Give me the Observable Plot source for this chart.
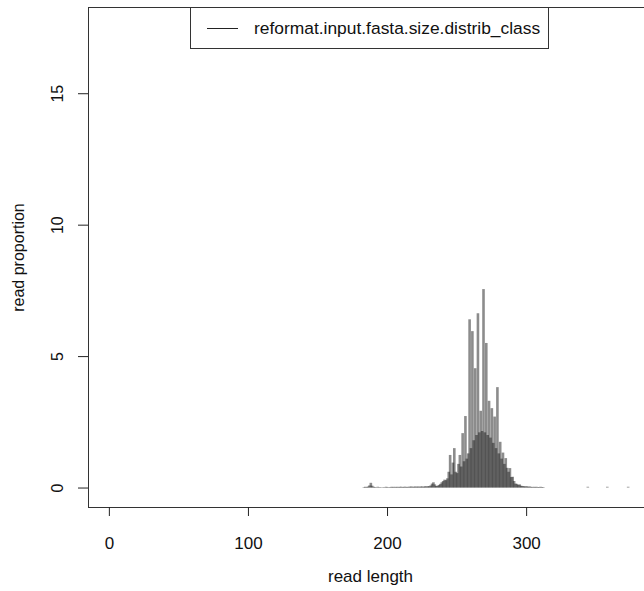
<!DOCTYPE html>
<html><head><meta charset="utf-8">
<script src="https://cdn.jsdelivr.net/npm/d3@7"></script>
<script src="https://cdn.jsdelivr.net/npm/@observablehq/plot@0.6"></script>
<style>
body{margin:0;background:#fff;}
#wrap{position:relative;width:644px;height:591px;overflow:hidden;background:#fff;font-family:"Liberation Sans",Arial,sans-serif;}
#chart svg{max-width:none !important;display:block;}
#legend{position:absolute;left:190px;top:7px;width:359px;height:42px;box-sizing:border-box;border:1px solid #333;background:#fff;}
#legend .sw{position:absolute;left:16px;top:20px;width:31px;height:0;border-top:1px solid #222;}
#legend .tx{position:absolute;left:63px;top:10px;font-size:17.4px;line-height:20px;color:#111;white-space:nowrap;}
</style></head>
<body>
<div id="wrap"><div id="chart"></div>
<div id="legend"><div class="sw"></div><div class="tx">reformat.input.fasta.size.distrib_class</div></div>
</div>
<script>
const readLength = [183,184,185,186,187,188,189,190,191,192,193,194,195,196,197,198,199,200,201,202,203,204,205,206,207,208,209,210,211,212,213,214,215,216,217,218,219,220,221,222,223,224,225,226,227,228,229,230,231,232,233,234,235,236,237,238,239,240,241,242,243,244,245,246,247,248,249,250,251,252,253,254,255,256,257,258,259,260,261,262,263,264,265,266,267,268,269,270,271,272,273,274,275,276,277,278,279,280,281,282,283,284,285,286,287,288,289,290,291,292,293,294,295,296,297,298,299,300,301,302,303,304,305,306,307,308,309,310,311,312,344,358,373];
const proportion = [0.02,0.03,0.02,0.04,0.08,0.18,0.07,0.03,0.02,0.01,0.03,0.01,0.02,0,0.02,0.01,0.03,0.02,0.01,0.02,0.03,0.02,0.03,0.02,0.03,0.02,0.03,0.03,0.02,0.03,0.03,0.02,0.03,0.03,0.04,0.03,0.03,0.04,0.03,0.04,0.03,0.04,0.04,0.03,0.05,0.04,0.05,0.05,0.08,0.15,0.2,0.12,0.06,0.07,0.1,0.14,0.2,0.25,0.3,0.28,0.35,0.6,1.24,0.5,0.95,1.5,0.6,0.55,0.9,1.24,0.8,2.07,1.0,2.72,1.1,1.3,6.4,1.5,5.95,1.8,4.54,2.0,6.63,2.1,2.92,2.15,7.55,2.1,5.5,2.0,3.3,1.9,3.02,1.7,2.7,1.5,3.82,1.3,1.74,1.1,1.33,0.9,1.12,0.75,0.6,0.74,0.4,0.41,0.25,0.15,0.14,0.1,0.12,0.07,0.06,0.05,0.04,0.05,0.03,0.04,0.03,0.02,0.03,0.02,0.03,0.02,0.02,0.03,0.02,0.02,0.03,0.03,0.03];
const xTicks = [0,100,200,300];
const yTicks = [0,5,10,15];
const xTitle = "read length";
const yTitle = "read proportion";

const data = readLength.map((x, i) => ({x, y: proportion[i]}));

const chart = Plot.plot({
  width: 652, height: 591,
  marginLeft: 88, marginRight: 0, marginTop: 7, marginBottom: 84,
  style: {fontFamily: "Liberation Sans, Arial, sans-serif", fontSize: "17px", color: "#111", background: "#fff", maxWidth: "none"},
  x: {domain: [-15, 390.5], label: null},
  y: {domain: [-0.74, 18.28], label: null},
  marks: [
    Plot.ruleX(data, {x: "x", y1: 0, y2: "y", stroke: "#1a1a1a", strokeOpacity: 0.5, strokeWidth: 2.6}),
    Plot.frame({stroke: "#333"}),
    Plot.axisX(xTicks, {tickSize: 9, tickPadding: 20, fontSize: 17, stroke: "#222", label: null}),
    Plot.axisY(yTicks, {tickSize: 10, tickFormat: () => "", stroke: "#222", label: null}),
    Plot.text(yTicks, {y: d => d, text: d => String(d), frameAnchor: "left", textAnchor: "middle", lineAnchor: "middle", dx: -31, rotate: -90, fontSize: 16, fill: "#111"}),
    Plot.text([yTitle], {frameAnchor: "left", textAnchor: "middle", lineAnchor: "middle", dx: -70, rotate: -90, fontSize: 16, fill: "#111"}),
    Plot.text([xTitle], {frameAnchor: "bottom", textAnchor: "middle", dy: 74, fontSize: 17, fill: "#111"})
  ]
});
document.getElementById("chart").appendChild(chart);
</script>
</body></html>
